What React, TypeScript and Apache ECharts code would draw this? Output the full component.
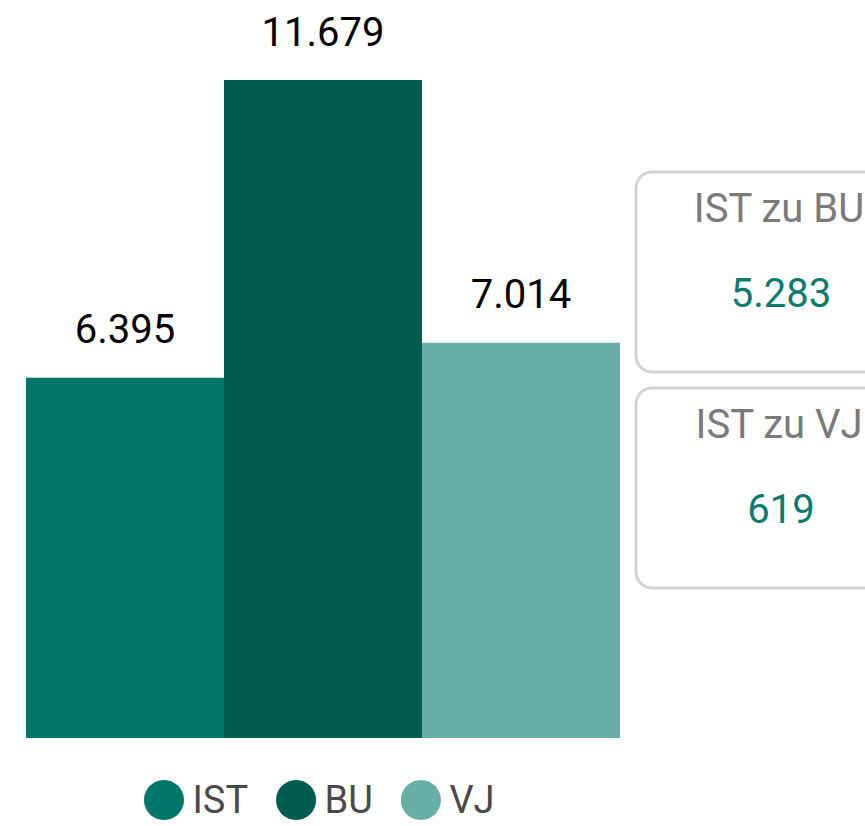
import React, { useEffect, useRef } from "react";
import * as echarts from "echarts";

const categories = ["IST", "BU", "VJ"];
const values = [6395, 11679, 7014];
const colors = ["#00766A", "#005B50", "#68AEA8"];
const cardTitles = ["IST zu BU", "IST zu VJ"];
const cardValues = ["5.283", "619"];

const fmt = (v: number) => String(Math.round(v)).replace(/\B(?=(\d{3})+(?!\d))/g, ".");

export default function App() {
  const ref = useRef<HTMLDivElement>(null);
  useEffect(() => {
    if (!ref.current) return;
    const chart = echarts.init(ref.current, null, { renderer: "svg" });
    const font = "Roboto, 'DejaVu Sans', sans-serif";
    const series = categories.map((name, i) => ({
      name,
      type: "bar",
      stack: "all",
      barCategoryGap: "0%",
      itemStyle: { color: colors[i] },
      data: categories.map((_, j) => (j === i ? values[i] : "-")),
      label: {
        show: true,
        position: "top",
        distance: 28,
        color: "#000",
        fontSize: 40,
        fontFamily: font,
        formatter: (p: any) => fmt(p.value),
      },
    }));
    const cardTops = [172, 388];
    const graphic: any[] = [];
    cardTops.forEach((top, k) => {
      graphic.push({
        type: "rect",
        shape: { x: 636, y: top, width: 292, height: 200, r: 16 },
        style: { fill: "#fff", stroke: "#d4d4d4", lineWidth: 3 },
      });
      graphic.push({
        type: "text",
        x: 779,
        y: top + 36,
        style: {
          text: cardTitles[k],
          fill: "#7a7a7a",
          font: `40px ${font}`,
          textAlign: "center",
          textVerticalAlign: "middle",
        },
      });
      graphic.push({
        type: "text",
        x: 781,
        y: top + 121,
        style: {
          text: cardValues[k],
          fill: "#0A7B6E",
          font: `40px ${font}`,
          textAlign: "center",
          textVerticalAlign: "middle",
        },
      });
    });
    chart.setOption({
      animation: false,
      grid: { left: 26, right: 245, top: 80, bottom: 88, containLabel: false },
      xAxis: {
        type: "category",
        data: categories,
        show: false,
      },
      yAxis: { type: "value", min: 0, max: "dataMax", show: false },
      legend: {
        data: categories,
        bottom: 6,
        left: 144,
        padding: 0,
        icon: "circle",
        itemWidth: 41,
        itemHeight: 40,
        itemGap: 28,
        textStyle: { fontSize: 38, color: "#4a4a4a", fontFamily: font, padding: [0, 0, 0, 3] },
      },
      series,
      graphic,
    });
    return () => chart.dispose();
  }, []);
  return (
    <div
      ref={ref}
      style={{ position: "absolute", left: 0, top: 0, width: 865, height: 826, overflow: "hidden" }}
    />
  );
}
